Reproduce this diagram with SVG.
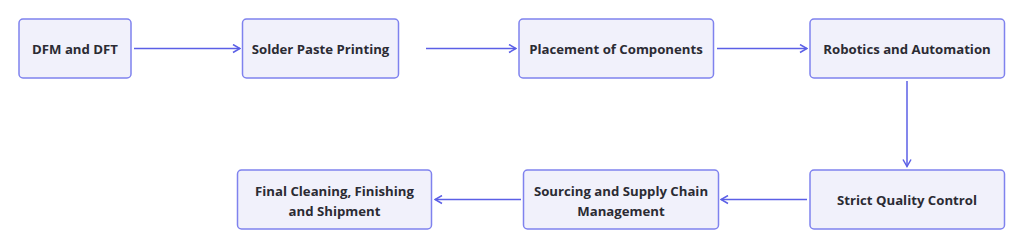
<svg xmlns="http://www.w3.org/2000/svg" width="1024" height="248" viewBox="0 0 1024 248">
<defs>
<style>
.node rect{fill:#f1f1fb;stroke:#7f82ee;stroke-width:1.5}
.node text{font-family:"Open Sans","Noto Sans",sans-serif;font-weight:700;font-size:13.2px;fill:#2b2b33;text-anchor:middle}
.edge{stroke:#5b5fe6;stroke-width:1.5;fill:none;marker-end:url(#arr)}
</style>
<marker id="arr" viewBox="0 0 10 10" refX="9" refY="5" markerWidth="10" markerHeight="10" markerUnits="userSpaceOnUse" orient="auto">
<path d="M2,1 L9,5 L2,9" fill="none" stroke="#5b5fe6" stroke-width="1.5"/>
</marker>
</defs>
<rect width="1024" height="248" fill="#ffffff"/>
<g id="connectors">
<path class="edge" d="M134,48.5 H240"/>
<path class="edge" d="M426,48.5 H516"/>
<path class="edge" d="M717,48.5 H807"/>
<path class="edge" d="M907,81 V166.5"/>
<path class="edge" d="M807,199.5 H721"/>
<path class="edge" d="M521,199.5 H435"/>
</g>
<g id="n1" class="node"><rect x="19" y="19" width="112" height="59" rx="4"/><text x="75" y="53.5">DFM and DFT</text></g>
<g id="n2" class="node"><rect x="242.5" y="19" width="156" height="59" rx="4"/><text x="320.5" y="53.5">Solder Paste Printing</text></g>
<g id="n3" class="node"><rect x="519" y="19" width="194.5" height="59" rx="4"/><text x="616" y="53.5">Placement of Components</text></g>
<g id="n4" class="node"><rect x="810" y="19" width="194.5" height="59" rx="4"/><text x="907" y="53.5">Robotics and Automation</text></g>
<g id="n5" class="node"><rect x="810" y="170" width="194.5" height="59" rx="4"/><text x="907" y="204.5">Strict Quality Control</text></g>
<g id="n6" class="node"><rect x="523.5" y="170" width="195" height="59" rx="4"/><text x="621" y="195.5">Sourcing and Supply Chain</text><text x="621" y="215.5">Management</text></g>
<g id="n7" class="node"><rect x="237.5" y="170" width="194" height="59" rx="4"/><text x="334.5" y="195.5">Final Cleaning, Finishing</text><text x="334.5" y="215.5">and Shipment</text></g>
</svg>
